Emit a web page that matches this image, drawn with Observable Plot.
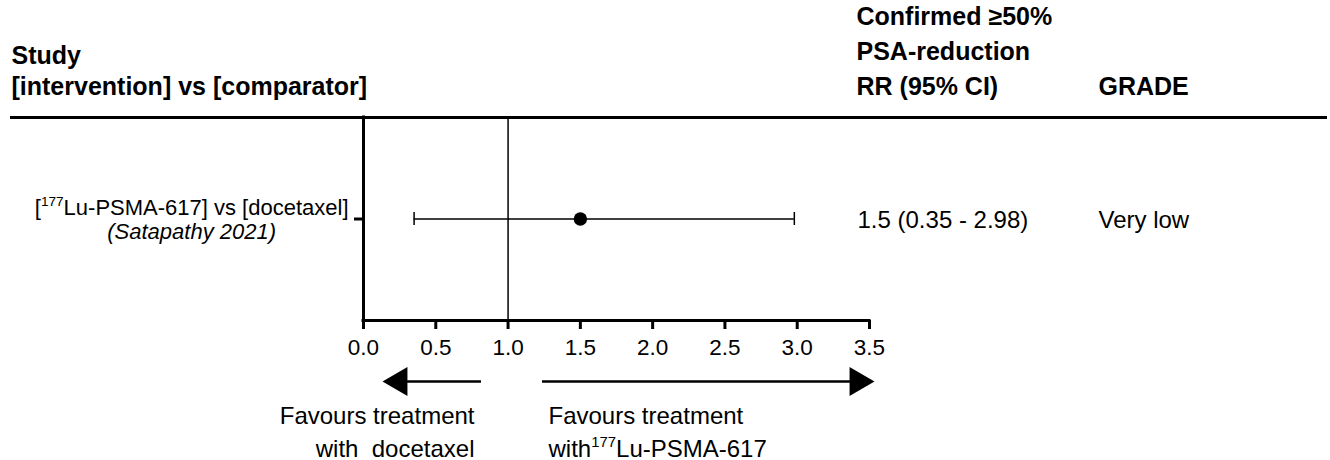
<!DOCTYPE html>
<html><head><meta charset="utf-8">
<script src="https://cdn.jsdelivr.net/npm/d3@7"></script>
<script src="https://cdn.jsdelivr.net/npm/@observablehq/plot@0.6"></script>
<style>
html,body{margin:0;padding:0;background:#fff;}
svg text{white-space:pre;}
</style></head><body><div id="chart"></div>
<script>
// ---- data ----
const studies = ["[177Lu-PSMA-617] vs [docetaxel]"];
const studyRefs = ["(Satapathy 2021)"];
const rr = [1.5];
const ciLow = [0.35];
const ciHigh = [2.98];
const rrText = ["1.5 (0.35 - 2.98)"];
const grade = ["Very low"];
const xTicks = [0, 0.5, 1, 1.5, 2, 2.5, 3, 3.5];
const nullEffect = [1];
const headerLeft = ["Study", "[intervention] vs [comparator]"];
const headerRR = ["Confirmed \u226550%", "PSA-reduction", "RR (95% CI)"];
const headerGrade = ["GRADE"];
const favourLeft = ["Favours treatment", "with  docetaxel"];
const favourRight = ["Favours treatment", "with177Lu-PSMA-617"];
const arrowLeft = {tail: 0.816, tip: 0.131};
const arrowRight = {tail: 1.238, tip: 3.535};

const rows = studies.map((s, i) => ({
  study: s, ref: studyRefs[i], row: studies.length - i,
  rr: rr[i], lo: ciLow[i], hi: ciHigh[i], rrText: rrText[i], grade: grade[i]
}));

// ---- layout ----
const W = 1330, H = 460, ML = 363, MR = 461, MT = 117, MB = 140;
const FONT = "Liberation Sans, Arial, Helvetica, sans-serif";
const LABEL_FS = 22, SUP = 0.62, HEAD_FS = 25;

const ctx = document.createElement("canvas").getContext("2d");
function tw(str, fs, style = "") { ctx.font = `${style} ${fs}px ${FONT}`; return ctx.measureText(str).width; }
function supWidth(str, fs, style = "") {
  const i = str.indexOf("177");
  if (i < 0) return tw(str, fs, style);
  return tw(str.slice(0, i), fs, style) + tw("177", fs * SUP, style) + tw(str.slice(i + 3), fs, style);
}

function line(str, px, baseline, o = {}) {
  return Plot.text([str], {text: d => d, frameAnchor: "top-left", dx: px - ML, dy: baseline - MT, lineAnchor: "bottom", ...o});
}

const labelRight = 348;
const labelCenter = labelRight - supWidth(rows[0].study, LABEL_FS) / 2;
const rowY = 218.5;
const arrowDy = 381 - (H - MB);
const headR = 10.7, headOff = 16.7;
const head = {fontWeight: "bold", textAnchor: "start", fontSize: HEAD_FS};

const chart = Plot.plot({
  width: W, height: H,
  marginLeft: ML, marginRight: MR, marginTop: MT, marginBottom: MB,
  style: {fontFamily: FONT, fontSize: "24px", background: "#fff", color: "#000"},
  x: {domain: [0, 3.5]},
  y: {domain: [0, studies.length + 1]},
  marks: [
    // header rule
    Plot.ruleY([studies.length + 1], {strokeWidth: 3, insetLeft: -(ML - 10), insetRight: -(1327 - (W - MR))}),
    // axes lines
    Plot.ruleX([0], {strokeWidth: 3, strokeLinecap: "square"}),
    Plot.ruleY([0], {strokeWidth: 3, strokeLinecap: "square"}),
    Plot.axisX({ticks: xTicks, tickFormat: d3.format(".1f"), tickSize: 9, tickPadding: 10, strokeWidth: 3, fontSize: 22.5, label: null}),
    Plot.axisY({ticks: rows.map(d => d.row), tickSize: 9, strokeWidth: 3, tickFormat: () => "", label: null}),
    // line of no effect
    Plot.ruleX(nullEffect, {strokeWidth: 1.5}),
    // CI
    Plot.ruleY(rows, {y: "row", x1: "lo", x2: "hi", strokeWidth: 1.5}),
    Plot.ruleX(rows, {x: "lo", y1: "row", y2: "row", insetTop: -6.5, insetBottom: -6.5, strokeWidth: 1.5}),
    Plot.ruleX(rows, {x: "hi", y1: "row", y2: "row", insetTop: -6.5, insetBottom: -6.5, strokeWidth: 1.5}),
    Plot.dot(rows, {x: "rr", y: "row", r: 6.7, fill: "black", stroke: null}),
    // row labels
    Plot.text(rows, {y: "row", text: "study", frameAnchor: "left", textAnchor: "end", dx: labelRight - ML, dy: 214 - rowY, lineAnchor: "bottom", fontSize: LABEL_FS}),
    Plot.text(rows, {y: "row", text: "ref", frameAnchor: "left", textAnchor: "middle", dx: labelCenter - ML, dy: 238 - rowY, lineAnchor: "bottom", fontSize: LABEL_FS, fontStyle: "italic"}),
    Plot.text(rows, {y: "row", text: "rrText", frameAnchor: "left", textAnchor: "start", dx: 857 - ML, dy: 227 - rowY, lineAnchor: "bottom"}),
    Plot.text(rows, {y: "row", text: "grade", frameAnchor: "left", textAnchor: "start", dx: 1098 - ML, dy: 227 - rowY, lineAnchor: "bottom"}),
    // headers
    line(headerLeft[0], 11, 63, head),
    line(headerLeft[1], 11, 94, head),
    line(headerRR[0], 856, 24, head),
    line(headerRR[1], 856, 59, head),
    line(headerRR[2], 856, 94, head),
    line(headerGrade[0], 1098, 94, head),
    // arrows
    Plot.ruleY([0], {x1: arrowLeft.tip, x2: arrowLeft.tail, dy: arrowDy, strokeWidth: 2.5, insetLeft: 20}),
    Plot.ruleY([0], {x1: arrowRight.tail, x2: arrowRight.tip, dy: arrowDy, strokeWidth: 2.5, insetRight: 20}),
    Plot.dot([arrowLeft], {x: "tip", y: () => 0, dy: arrowDy, dx: headOff, symbol: "triangle", r: headR, rotate: -90, fill: "black", stroke: null}),
    Plot.dot([arrowRight], {x: "tip", y: () => 0, dy: arrowDy, dx: -headOff, symbol: "triangle", r: headR, rotate: 90, fill: "black", stroke: null}),
    // favour labels
    line(favourLeft[0], 474, 423, {textAnchor: "end"}),
    line(favourLeft[1], 474, 456, {textAnchor: "end"}),
    line(favourRight[0], 548, 423, {textAnchor: "start"}),
    line(favourRight[1], 548, 456, {textAnchor: "start"})
  ]
});
document.getElementById("chart").appendChild(chart);

// superscript "177"
const NS = "http://www.w3.org/2000/svg";
chart.querySelectorAll("text").forEach(t => {
  if (t.children.length) return;
  const s = t.textContent;
  const i = s.indexOf("177");
  if (i < 0 || !/177Lu/.test(s)) return;
  const fs = parseFloat(getComputedStyle(t).fontSize);
  const up = Math.round(fs * 0.4);
  t.textContent = "";
  const a = document.createElementNS(NS, "tspan"); a.textContent = s.slice(0, i);
  const b = document.createElementNS(NS, "tspan"); b.textContent = "177";
  b.setAttribute("font-size", (fs * SUP).toFixed(1)); b.setAttribute("dy", -up);
  const c = document.createElementNS(NS, "tspan"); c.textContent = s.slice(i + 3); c.setAttribute("dy", up);
  t.append(a, b, c);
});
</script></body></html>
